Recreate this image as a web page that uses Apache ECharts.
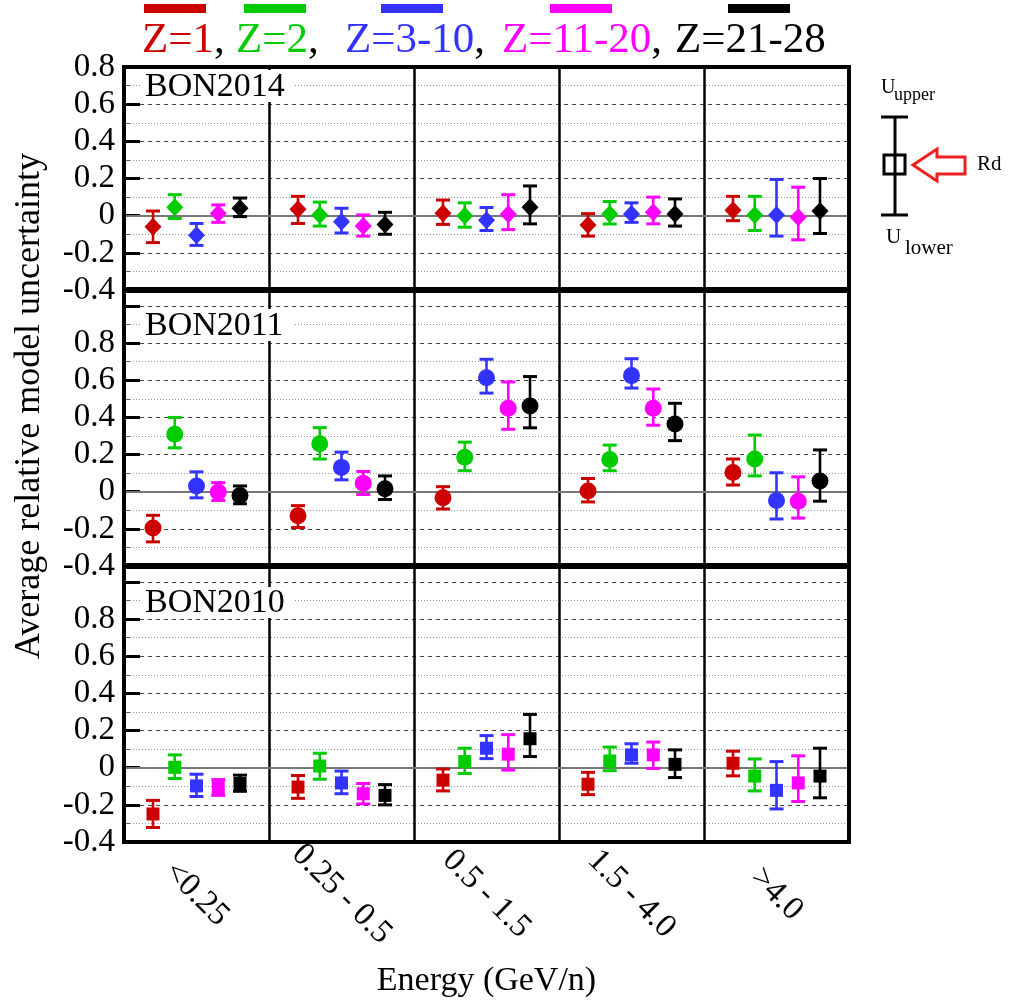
<!DOCTYPE html>
<html>
<head>
<meta charset="utf-8">
<script src="https://cdn.jsdelivr.net/npm/echarts@6/dist/echarts.min.js"></script>
<style>
  html, body { margin: 0; padding: 0; background: #fff; }
  #chart { width: 1009px; height: 1006px; }
</style>
</head>
<body>
<div id="chart"></div>
<script>
// Energy bins (GeV/n) and charge groups
const energyBins = ['<0.25', '0.25 - 0.5', '0.5 - 1.5', '1.5 - 4.0', '>4.0'];
const chargeGroups = ['Z=1', 'Z=2', 'Z=3-10', 'Z=11-20', 'Z=21-28'];
const groupColors = ['#cc0000', '#00cc00', '#3333ff', '#ff00ff', '#000000'];
const modelNames = ['BON2014', 'BON2011', 'BON2010'];

// Rows: charge groups; columns: energy bins
const bon2014Rd = [
  [-0.060, 0.035, 0.013, -0.050, 0.029],
  [0.045, 0.004, 0.000, 0.009, 0.004],
  [-0.105, -0.033, -0.024, 0.009, 0.004],
  [0.012, -0.056, 0.007, 0.018, -0.009],
  [0.040, -0.047, 0.045, 0.009, 0.025]
];
const bon2014Upper = [
  [0.025, 0.104, 0.084, 0.011, 0.104],
  [0.113, 0.073, 0.069, 0.076, 0.104],
  [-0.042, 0.040, 0.044, 0.069, 0.195],
  [0.058, 0.004, 0.113, 0.100, 0.153],
  [0.095, 0.018, 0.160, 0.090, 0.200]
];
const bon2014Lower = [
  [-0.145, -0.042, -0.047, -0.110, -0.027],
  [-0.015, -0.056, -0.062, -0.045, -0.080],
  [-0.160, -0.093, -0.080, -0.036, -0.110],
  [-0.036, -0.110, -0.075, -0.044, -0.130],
  [-0.005, -0.100, -0.044, -0.056, -0.096]
];

const bon2011Rd = [
  [-0.196, -0.129, -0.033, 0.004, 0.104],
  [0.309, 0.258, 0.185, 0.173, 0.176],
  [0.031, 0.131, 0.613, 0.625, -0.047],
  [-0.002, 0.045, 0.449, 0.449, -0.051],
  [-0.020, 0.016, 0.462, 0.364, 0.058]
];
const bon2011Upper = [
  [-0.127, -0.075, 0.027, 0.071, 0.176],
  [0.400, 0.345, 0.267, 0.251, 0.305],
  [0.107, 0.213, 0.713, 0.716, 0.102],
  [0.049, 0.109, 0.591, 0.553, 0.080],
  [0.031, 0.085, 0.620, 0.476, 0.225]
];
const bon2011Lower = [
  [-0.270, -0.193, -0.093, -0.055, 0.036],
  [0.236, 0.176, 0.113, 0.113, 0.085],
  [-0.033, 0.064, 0.531, 0.558, -0.147],
  [-0.047, -0.015, 0.336, 0.358, -0.142],
  [-0.065, -0.042, 0.344, 0.275, -0.051]
];

const bon2010Rd = [
  [-0.249, -0.104, -0.067, -0.089, 0.024],
  [0.002, 0.009, 0.033, 0.036, -0.045],
  [-0.098, -0.082, 0.105, 0.069, -0.122],
  [-0.107, -0.140, 0.073, 0.069, -0.082],
  [-0.085, -0.149, 0.156, 0.018, -0.045]
];
const bon2010Upper = [
  [-0.176, -0.042, -0.007, -0.025, 0.089],
  [0.069, 0.078, 0.105, 0.111, 0.047],
  [-0.035, -0.018, 0.173, 0.129, 0.033],
  [-0.064, -0.085, 0.178, 0.138, 0.064],
  [-0.040, -0.091, 0.287, 0.096, 0.105]
];
const bon2010Lower = [
  [-0.322, -0.165, -0.125, -0.145, -0.044],
  [-0.058, -0.062, -0.031, -0.016, -0.125],
  [-0.155, -0.140, 0.049, 0.024, -0.222],
  [-0.149, -0.195, -0.013, -0.004, -0.182],
  [-0.127, -0.200, 0.060, -0.053, -0.162]
];

const FONT = '"Liberation Serif", "Times New Roman", serif';
const PLOT_LEFT = 124, PLOT_WIDTH = 725;
const panels = [
  { name: modelNames[0], top: 67, height: 223, max: 0.8, marker: 'diamond', rd: bon2014Rd, lo: bon2014Lower, hi: bon2014Upper },
  { name: modelNames[1], top: 290, height: 276, max: 1.086, marker: 'circle', rd: bon2011Rd, lo: bon2011Lower, hi: bon2011Upper },
  { name: modelNames[2], top: 566, height: 276, max: 1.086, marker: 'square', rd: bon2010Rd, lo: bon2010Lower, hi: bon2010Upper }
];
const groupOffsets = [-0.3, -0.15, 0, 0.15, 0.3]; // fraction of a category band

function markerShape(kind, x, y, color) {
  if (kind === 'diamond') {
    return { type: 'polygon', shape: { points: [[x, y - 9], [x + 8.5, y], [x, y + 9], [x - 8.5, y]] }, style: { fill: color } };
  }
  if (kind === 'circle') {
    return { type: 'circle', shape: { cx: x, cy: y, r: 8.5 }, style: { fill: color } };
  }
  return { type: 'rect', shape: { x: x - 6.5, y: y - 6.5, width: 13, height: 13 }, style: { fill: color } };
}

function errorBarRenderer(kind, color, offset) {
  return function (params, api) {
    const cat = api.value(0);
    const band = api.size([1, 0])[0];
    const c = api.coord([cat, api.value(1)]);
    const lo = api.coord([cat, api.value(2)]);
    const hi = api.coord([cat, api.value(3)]);
    const x = c[0] + offset * band;
    const cap = 7;
    return {
      type: 'group',
      children: [
        { type: 'line', shape: { x1: x, y1: hi[1], x2: x, y2: lo[1] }, style: { stroke: color, lineWidth: 2.6 } },
        { type: 'line', shape: { x1: x - cap, y1: hi[1], x2: x + cap, y2: hi[1] }, style: { stroke: color, lineWidth: 3 } },
        { type: 'line', shape: { x1: x - cap, y1: lo[1], x2: x + cap, y2: lo[1] }, style: { stroke: color, lineWidth: 3 } },
        markerShape(kind, x, c[1], color)
      ]
    };
  };
}

const grids = [], xAxes = [], yAxes = [], series = [];
panels.forEach((p, i) => {
  grids.push({ left: PLOT_LEFT, width: PLOT_WIDTH, top: p.top, height: p.height, containLabel: false });
  const isBottom = i === panels.length - 1;
  xAxes.push({
    type: 'category', gridIndex: i, data: energyBins, boundaryGap: true,
    axisLine: { show: false }, axisTick: { show: false },
    splitLine: { show: true, interval: 0, lineStyle: { color: '#000', width: 2.5 } },
    axisLabel: {
      show: isBottom, interval: 0, rotate: -45, align: 'center', verticalAlign: 'middle',
      margin: 52, fontSize: 33, fontFamily: FONT, color: '#000'
    },
    name: isBottom ? 'Energy (GeV/n)' : '', nameLocation: 'middle', nameGap: 122,
    nameTextStyle: { fontSize: 34, fontFamily: FONT, color: '#000' }
  });
  yAxes.push({
    type: 'value', gridIndex: i, min: -0.4, max: p.max, interval: 0.2,
    axisLine: { show: false },
    axisTick: { show: true, inside: true, length: 16, lineStyle: { color: '#000', width: 3 } },
    minorTick: { show: true, splitNumber: 2, length: 6, lineStyle: { color: '#666', width: 1 } },
    splitLine: { show: true, lineStyle: { color: '#444', width: 1, type: [4, 4] } },
    minorSplitLine: { show: true, lineStyle: { color: '#999', width: 1, type: [1, 2] } },
    axisLabel: {
      margin: 9, fontSize: 33, fontFamily: FONT, color: '#000',
      formatter: v => (v > 0.81 || v < -0.41) ? '' : (Math.abs(v) < 1e-9 ? '0' : v.toFixed(1))
    }
  });
  // zero reference line
  series.push({
    type: 'line', xAxisIndex: i, yAxisIndex: i, data: [], z: 1, silent: true,
    markLine: {
      silent: true, symbol: 'none', label: { show: false }, animation: false,
      lineStyle: { color: '#777', width: 2, type: 'solid' },
      data: [{ yAxis: 0 }]
    }
  });
  chargeGroups.forEach((g, gi) => {
    series.push({
      type: 'custom', name: g, xAxisIndex: i, yAxisIndex: i, z: 5,
      data: energyBins.map((_, ci) => [ci, p.rd[gi][ci], p.lo[gi][ci], p.hi[gi][ci]]),
      encode: { x: 0, y: [1, 2, 3] },
      renderItem: errorBarRenderer(p.marker, groupColors[gi], groupOffsets[gi])
    });
  });
});

// Decorations: legend, panel frames, panel titles, axis title, error-bar key
const graphics = [];
const legendSwatchX = [144, 244, 381, 550, 728];
const legendTextX = [142, 236, 345, 502, 675];
chargeGroups.forEach((g, gi) => {
  graphics.push({ type: 'rect', z: 100, shape: { x: legendSwatchX[gi], y: 4, width: 62, height: 9 }, style: { fill: groupColors[gi] } });
  const last = gi === chargeGroups.length - 1;
  graphics.push({
    type: 'text', z: 100, x: legendTextX[gi], y: 41,
    style: {
      text: '{a|' + g + '}' + (last ? '' : '{b|,}'),
      align: 'left', verticalAlign: 'middle',
      rich: {
        a: { fill: groupColors[gi], fontSize: 43, fontFamily: FONT },
        b: { fill: '#000', fontSize: 43, fontFamily: FONT }
      }
    }
  });
});
const titleBoxes = [[70, 102], [309, 341], [587, 618]];
panels.forEach((p, i) => {
  const [y0, y1] = titleBoxes[i];
  graphics.push({ type: 'rect', z: 50, shape: { x: 140, y: y0, width: 153, height: y1 - y0 }, style: { fill: '#fff' } });
  graphics.push({
    type: 'text', z: 51, x: 145, y: (y0 + y1) / 2 + 1,
    style: { text: p.name, fill: '#000', font: '34px ' + FONT, align: 'left', verticalAlign: 'middle' }
  });
});
const plotBottom = panels[2].top + panels[2].height;
graphics.push({
  type: 'rect', z: 100,
  shape: { x: PLOT_LEFT, y: panels[0].top, width: PLOT_WIDTH, height: plotBottom - panels[0].top },
  style: { fill: 'none', stroke: '#000', lineWidth: 4 }
});
[panels[1].top, panels[2].top].forEach(y => {
  graphics.push({ type: 'line', z: 100, shape: { x1: PLOT_LEFT, y1: y, x2: PLOT_LEFT + PLOT_WIDTH, y2: y }, style: { stroke: '#000', lineWidth: 6 } });
});
graphics.push({
  type: 'text', z: 100, x: 30, y: 406, rotation: Math.PI / 2,
  style: { text: 'Average relative model uncertainty', fill: '#000', font: '36px ' + FONT, align: 'center', verticalAlign: 'middle' }
});
// error-bar key on the right
graphics.push(
  { type: 'line', z: 100, shape: { x1: 895, y1: 117, x2: 895, y2: 215 }, style: { stroke: '#000', lineWidth: 3 } },
  { type: 'line', z: 100, shape: { x1: 881, y1: 117, x2: 908, y2: 117 }, style: { stroke: '#000', lineWidth: 3 } },
  { type: 'line', z: 100, shape: { x1: 881, y1: 215, x2: 908, y2: 215 }, style: { stroke: '#000', lineWidth: 3 } },
  { type: 'rect', z: 100, shape: { x: 884, y: 155, width: 21, height: 19 }, style: { fill: 'none', stroke: '#000', lineWidth: 3 } },
  {
    type: 'polygon', z: 100,
    shape: { points: [[913, 165], [937, 149], [937, 157], [965, 157], [965, 174], [937, 174], [937, 181]] },
    style: { fill: 'none', stroke: '#ee2020', lineWidth: 3 }
  },
  { type: 'text', z: 100, x: 881, y: 98, style: { text: 'U', fill: '#000', font: '20px ' + FONT, align: 'left', verticalAlign: 'bottom' } },
  { type: 'text', z: 100, x: 894, y: 104, style: { text: 'upper', fill: '#000', font: '18px ' + FONT, align: 'left', verticalAlign: 'bottom' } },
  { type: 'text', z: 100, x: 886, y: 248, style: { text: 'U', fill: '#000', font: '21px ' + FONT, align: 'left', verticalAlign: 'bottom' } },
  { type: 'text', z: 100, x: 905, y: 259, style: { text: 'lower', fill: '#000', font: '21px ' + FONT, align: 'left', verticalAlign: 'bottom' } },
  { type: 'text', z: 100, x: 977, y: 175, style: { text: 'Rd', fill: '#000', font: '21px ' + FONT, align: 'left', verticalAlign: 'bottom' } }
);

const chart = echarts.init(document.getElementById('chart'), null, { renderer: 'canvas' });
chart.setOption({
  animation: false,
  backgroundColor: '#fff',
  grid: grids,
  xAxis: xAxes,
  yAxis: yAxes,
  series: series,
  graphic: graphics
});
</script>
</body>
</html>
